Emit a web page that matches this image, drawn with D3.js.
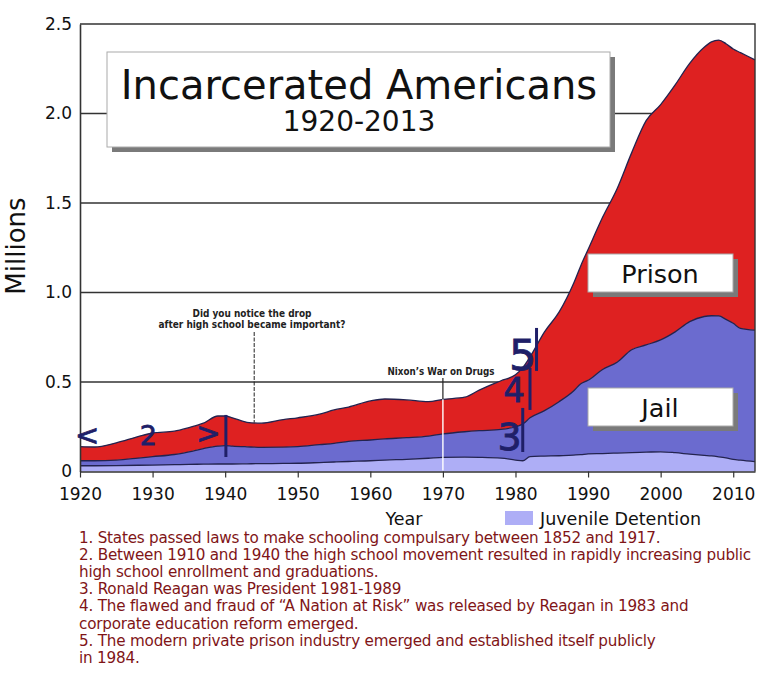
<!DOCTYPE html>
<html lang="en">
  <head>
    <title>Incarcerated Americans</title>
    <script src="https://d3js.org/d3.v7.min.js"></script>
    <style>
      body { margin: 0; background: #fff; }
      text { font-family: "DejaVu Sans", sans-serif; }
      .grid line { stroke: #333; stroke-width: 1.4; }
      .note { fill: #7f1517; }
      .hand { fill: #1f1f68; stroke: #1f1f68; stroke-width: 0.8; }
    </style>
  </head>
  <body>
    <svg width="767" height="678"></svg>

    <script>
      // stacked series, millions of people
      var years = [1920, 1922, 1925, 1928, 1930, 1933, 1935, 1937, 1939, 1940, 1941, 1943, 1945, 1948,
                   1950, 1953, 1955, 1957, 1960, 1962, 1965, 1968, 1970, 1973, 1975, 1978, 1980, 1981,
                   1982, 1984, 1986, 1988, 1989, 1990, 1992, 1994, 1996, 1998, 2000, 2002, 2004, 2006,
                   2007, 2008, 2009, 2010, 2011, 2013];
      var juvenile = [.032, .032, .033, .035, .036, .038, .040, .041, .042, .042, .042, .043, .044, .045,
                      .046, .050, .053, .056, .060, .064, .068, .074, .079, .080, .079, .075, .064, .060,
                      .083, .086, .088, .092, .094, .098, .100, .103, .106, .108, .110, .105, .097, .090,
                      .087, .082, .076, .068, .063, .055];
      var jail = [.028, .028, .031, .040, .047, .057, .070, .087, .100, .103, .100, .095, .091, .091,
                  .093, .100, .104, .112, .116, .118, .121, .124, .131, .142, .149, .160, .186, .205,
                  .217, .254, .302, .358, .396, .412, .470, .507, .574, .599, .625, .675, .740, .776,
                  .783, .787, .774, .760, .737, .735];
      var prison = [.079, .077, .096, .120, .132, .130, .135, .142, .168, .165, .158, .137, .135, .154,
                    .161, .170, .187, .192, .218, .223, .211, .192, .193, .193, .227, .272, .290, .315,
                    .340, .440, .500, .600, .660, .730, .850, .970, 1.100, 1.253, 1.315, 1.380, 1.443, 1.504,
                    1.530, 1.541, 1.540, 1.532, 1.540, 1.510];

      var xTicks = [1920, 1930, 1940, 1950, 1960, 1970, 1980, 1990, 2000, 2010];
      var yTicks = [0, 0.5, 1.0, 1.5, 2.0, 2.5];
      var yTickLabels = ["0", "0.5", "1.0", "1.5", "2.0", "2.5"];

      var notes = ["1. States passed laws to make schooling compulsary between 1852 and 1917.",
                   "2. Between 1910 and 1940 the high school movement resulted in rapidly increasing public",
                   "high school enrollment and graduations.",
                   "3. Ronald Reagan was President 1981-1989",
                   "4. The flawed and fraud of \u201cA Nation at  Risk\u201d was released by Reagan in 1983 and",
                   "corporate education reform emerged.",
                   "5. The modern private prison  industry emerged and established itself publicly",
                   "in 1984."];

      // hand-written marks: glyph, year, value, size
      var handMarks = [["<", 1921.0, 0.150, 29], ["2", 1929.4, 0.148, 27], [">", 1937.7, 0.160, 29],
                       ["3", 1979.2, 0.120, 38], ["4", 1979.8, 0.389, 34], ["5", 1981.0, 0.567, 43]];
      var handBars = [[1940.1, 0.081, 0.316], [1981.0, 0.109, 0.355], [1982.0, 0.344, 0.579], [1982.9, 0.562, 0.802]];

      var table = years.map(function(y, i) {
        return {year: y, juvenile: juvenile[i], jail: jail[i], prison: prison[i]};
      });

      var svg = d3.select("svg");
      var x = d3.scaleLinear().domain([1920, 2013]).range([80, 755]);
      var y = d3.scaleLinear().domain([0, 2.5]).range([471.5, 24]);

      var stack = d3.stack().keys(["juvenile", "jail", "prison"]);
      var layers = stack(table);
      var colors = {juvenile: "#aeaef6", jail: "#6b6bcf", prison: "#de2121"};

      // gridlines
      svg.append("g").attr("class", "grid").selectAll("line")
         .data(yTicks.slice(1, 5)).enter().append("line")
         .attr("x1", x(1920)).attr("x2", x(2013))
         .attr("y1", function(d){return y(d);}).attr("y2", function(d){return y(d);});

      var area = d3.area().x(function(d){return x(d.data.year);})
                          .y0(function(d){return y(d[0]);})
                          .y1(function(d){return y(d[1]);})
                          .curve(d3.curveMonotoneX);
      var edge = d3.line().x(function(d){return x(d.data.year);})
                          .y(function(d){return y(d[1]);})
                          .curve(d3.curveMonotoneX);

      svg.append("g").selectAll("path").data(layers).enter().append("path")
         .attr("d", area).attr("fill", function(d){return colors[d.key];});
      svg.append("g").selectAll("path").data(layers).enter().append("path")
         .attr("d", edge).attr("fill", "none").attr("stroke", "#23234f").attr("stroke-width", 1.3);

      // frame and axes
      svg.append("path")
         .attr("d", "M" + x(1920) + "," + y(2.5) + "H" + x(2013) + "V" + y(0))
         .attr("fill", "none").attr("stroke", "#333").attr("stroke-width", 1.4);

      var xAxis = svg.append("g").attr("transform", "translate(0," + y(0) + ")")
         .call(d3.axisBottom(x).tickValues(xTicks).tickFormat(d3.format("d")).tickSize(6).tickSizeOuter(0).tickPadding(10));
      xAxis.select(".domain").attr("stroke", "#333").attr("stroke-width", 1.6);
      xAxis.selectAll(".tick line").attr("stroke", "#333").attr("stroke-width", 1.2);
      xAxis.selectAll("text").attr("font-size", 17).attr("fill", "#111")
           .attr("font-family", "DejaVu Sans");

      var yAxis = svg.append("g").attr("transform", "translate(" + x(1920) + ",0)")
         .call(d3.axisLeft(y).tickValues(yTicks).tickSize(0).tickPadding(8)
                 .tickFormat(function(d, i){return yTickLabels[i];}));
      yAxis.select(".domain").attr("stroke", "#333").attr("stroke-width", 1.6);
      yAxis.selectAll("text").attr("font-size", 17).attr("fill", "#111")
           .attr("font-family", "DejaVu Sans");

      svg.append("text").attr("x", 404).attr("y", 525).attr("text-anchor", "middle")
         .attr("font-size", 17.5).attr("fill", "#111").text("Year");
      svg.append("text").attr("transform", "translate(25,246) rotate(-90)")
         .attr("text-anchor", "middle").attr("font-size", 26).attr("fill", "#111").text("Millions");

      // legend
      svg.append("rect").attr("x", 505).attr("y", 511).attr("width", 28).attr("height", 14)
         .attr("fill", colors.juvenile);
      svg.append("text").attr("x", 540).attr("y", 525).attr("font-size", 17.5).attr("fill", "#111")
         .text("Juvenile Detention");

      // boxed labels with drop shadow
      function box(bx, by, bw, bh) {
        svg.append("rect").attr("x", bx + 5).attr("y", by + 5).attr("width", bw).attr("height", bh)
           .attr("fill", "#7a7a7a");
        svg.append("rect").attr("x", bx).attr("y", by).attr("width", bw).attr("height", bh)
           .attr("fill", "#fff").attr("stroke", "#aaa").attr("stroke-width", 1);
      }
      box(107, 52, 503, 95);
      svg.append("text").attr("x", 359).attr("y", 99).attr("text-anchor", "middle")
         .attr("font-size", 40).attr("fill", "#111").text("Incarcerated Americans");
      svg.append("text").attr("x", 359).attr("y", 131).attr("text-anchor", "middle")
         .attr("font-size", 28).attr("fill", "#111").text("1920-2013");

      box(588, 254, 145, 38);
      svg.append("text").attr("x", 660).attr("y", 283).attr("text-anchor", "middle")
         .attr("font-size", 25.5).attr("fill", "#111").text("Prison");
      box(588, 388, 145, 38);
      svg.append("text").attr("x", 660).attr("y", 417).attr("text-anchor", "middle")
         .attr("font-size", 25.5).attr("fill", "#111").text("Jail");

      // callouts
      function totalAt(yr) {
        var i = years.indexOf(yr);
        if (i >= 0) return juvenile[i] + jail[i] + prison[i];
        var j = d3.bisectLeft(years, yr);
        var t = (yr - years[j - 1]) / (years[j] - years[j - 1]);
        var a = juvenile[j - 1] + jail[j - 1] + prison[j - 1];
        var b = juvenile[j] + jail[j] + prison[j];
        return a + (b - a) * t;
      }
      function callout(cx, cy, w, s) {
        svg.append("text").attr("x", cx).attr("y", cy).attr("text-anchor", "middle")
           .attr("font-family", "Open Sans").attr("font-weight", 600).attr("font-size", 10.5)
           .attr("fill", "#222").attr("textLength", w).attr("lengthAdjust", "spacingAndGlyphs")
           .text(s);
      }
      svg.append("line").attr("x1", x(1944)).attr("x2", x(1944))
         .attr("y1", 332).attr("y2", y(totalAt(1944)))
         .attr("stroke", "#222").attr("stroke-width", 1).attr("stroke-dasharray", "4,1.5");
      callout(252, 317, 119, "Did you notice the drop");
      callout(252, 328, 187, "after high school became important?");

      svg.append("line").attr("x1", x(1970)).attr("x2", x(1970))
         .attr("y1", 378).attr("y2", y(totalAt(1970)))
         .attr("stroke", "#222").attr("stroke-width", 1.2);
      svg.append("line").attr("x1", x(1970)).attr("x2", x(1970))
         .attr("y1", y(totalAt(1970))).attr("y2", y(0) - 1)
         .attr("stroke", "#fff").attr("stroke-width", 1.4);
      callout(441, 375, 107, "Nixon\u2019s War on Drugs");

      // hand-drawn marks, one text with a tspan per glyph
      svg.append("text").attr("class", "hand").attr("text-anchor", "middle")
         .selectAll("tspan").data(handMarks).enter().append("tspan")
         .attr("x", function(d){return x(d[1]);}).attr("y", function(d){return y(d[2]);})
         .attr("font-size", function(d){return d[3];}).text(function(d){return d[0];});
      svg.append("g").selectAll("line").data(handBars).enter().append("line")
         .attr("x1", function(d){return x(d[0]);}).attr("x2", function(d){return x(d[0]);})
         .attr("y1", function(d){return y(d[1]);}).attr("y2", function(d){return y(d[2]);})
         .attr("stroke", "#1f1f68").attr("stroke-width", 3);

      // footnotes: line widths taken from Open Sans, drawn in the more compact Liberation Sans
      var noteText = svg.append("g").selectAll("text").data(notes).enter().append("text")
         .attr("class", "note").attr("x", 79)
         .attr("y", function(d, i){return 543 + i * 17.1;})
         .attr("font-family", "Open Sans").attr("font-size", 15).text(function(d){return d;});
      var widths = noteText.nodes().map(function(n){return n.getComputedTextLength();});
      var k = 672 / widths[1];
      noteText.attr("font-family", "Liberation Sans").attr("font-size", 15.2);
      noteText.each(function(d, i) {
        var natural = this.getComputedTextLength();
        d3.select(this).attr("letter-spacing", ((widths[i] * k - natural) / d.length).toFixed(3));
      });
    </script>
  </body>
</html>
